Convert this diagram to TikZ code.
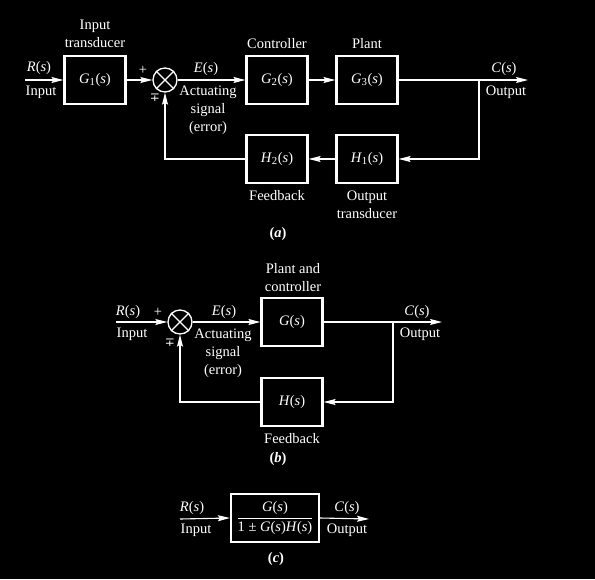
\documentclass[tikz,border=0pt]{standalone}
\usepackage{amsmath}
\usepackage{mathptmx}
\usepackage{fontspec}
\setmainfont{Liberation Serif}
\newfontfamily\symfam{DejaVu Serif}
\usetikzlibrary{arrows.meta,positioning}
\newcommand{\sig}[1]{\textit{#1}(\textit{s})}
\newcommand{\sigi}[2]{\textit{#1}\textsubscript{#2}(\textit{s})}
\newcommand{\mpsign}{{\symfam\fontsize{12}{12}\selectfont ∓}}

\begin{document}
\begin{tikzpicture}[x=1pt, y=-1pt,
    font=\fontsize{14.5}{18}\selectfont,
    blk/.style={rectangle, draw=white, line width=2.2pt, minimum width=61pt,
      minimum height=48pt, text=white},
    sum/.style={circle, draw=white, line width=1.3pt, minimum size=24pt, inner sep=0pt},
    arr/.style={-{Stealth[length=12pt, width=6pt, inset=2pt]}, white, line width=1.1pt},
    wire/.style={white, line width=1.1pt},
    lbl/.style={text=white, inner sep=0pt, align=center}
  ]
    \fill[black] (0,0) rectangle (595,579);

    % (a) full loop
    \node[blk] (g1) at (95,80)   {\sigi{G}{1}};
    \node[sum] (sa) at (165,80)  {};
    \node[blk] (g2) at (277,80)  {\sigi{G}{2}};
    \node[blk] (g3) at (367,80)  {\sigi{G}{3}};
    \node[blk] (h1) at (367,159) {\sigi{H}{1}};
    \node[blk] (h2) at (277,159) {\sigi{H}{2}};
    \draw[wire] (sa.north west) -- (sa.south east) (sa.north east) -- (sa.south west);
    \coordinate (ra) at (25,80);
    \coordinate (ca) at (528,80);
    \coordinate (ba) at (479,80);

    \draw[arr] (ra) -- (g1.west);
    \draw[arr] (g1.east) -- (sa.west);
    \draw[arr] (sa.east) -- (g2.west);
    \draw[arr] (g2.east) -- (g3.west);
    \draw[arr] (g3.east) -- (ca);
    \draw[arr] (ba) |- (h1.east);
    \draw[arr] (h1.west) -- (h2.east);
    \draw[arr] (h2.west) -| (sa.south);

    \node[lbl] (la1)  at (39,68)   {\sig{R}};
    \node[lbl] (la2)  at (41,92)   {Input};
    \node[lbl] (la3)  at (95,34)   {Input\\transducer};
    \node[lbl] (la4)  at (143,70)  {+};
    \node[lbl] (la5)  at (155,98)  {\mpsign};
    \node[lbl] (la6)  at (206,69)  {\sig{E}};
    \node[lbl] (la7)  at (208,110) {Actuating\\signal\\(error)};
    \node[lbl] (la8)  at (277,44)  {Controller};
    \node[lbl] (la9)  at (367,44)  {Plant};
    \node[lbl] (la10) at (504,69)  {\sig{C}};
    \node[lbl] (la11) at (506,92)  {Output};
    \node[lbl] (la12) at (277,196) {Feedback};
    \node[lbl] (la13) at (367,205) {Output\\transducer};
    \node[lbl] (la14) at (278,234) {\textbf{(\textit{a})}};

    % (b) canonical loop
    \node[sum] (sb) at (180,322) {};
    \node[blk] (gb) at (292,322) {\sig{G}};
    \node[blk] (hb) at (292,402) {\sig{H}};
    \draw[wire] (sb.north west) -- (sb.south east) (sb.north east) -- (sb.south west);
    \coordinate (rb) at (116,322);
    \coordinate (cb) at (442,322);
    \coordinate (bb) at (393,322);

    \draw[arr] (rb) -- (sb.west);
    \draw[arr] (sb.east) -- (gb.west);
    \draw[wire] (gb.east) -- (bb);
    \draw[arr] (bb) -- (cb);
    \draw[arr] (bb) |- (hb.east);
    \draw[arr] (hb.west) -| (sb.south);

    \node[lbl] (lb1)  at (128,312) {\sig{R}};
    \node[lbl] (lb2)  at (132,334) {Input};
    \node[lbl] (lb3)  at (158,312) {+};
    \node[lbl] (lb4)  at (170,343) {\mpsign};
    \node[lbl] (lb5)  at (224,312) {\sig{E}};
    \node[lbl] (lb6)  at (223,353) {Actuating\\signal\\(error)};
    \node[lbl] (lb7)  at (293,278) {Plant and\\controller};
    \node[lbl] (lb8)  at (417,312) {\sig{C}};
    \node[lbl] (lb9)  at (420,334) {Output};
    \node[lbl] (lb10) at (292,439) {Feedback};
    \node[lbl] (lb11) at (278,459) {\textbf{(\textit{b})}};

    % (c) closed-loop equivalent
    \node[blk, minimum width=88pt] (gc) at (275,518)
      {$\dfrac{\text{\sig{G}}}{\text{1 ± \sig{G}\sig{H}}}$};
    \coordinate (rc) at (180,519);
    \coordinate (cc) at (369,519);
    \draw[arr] (rc) -- (gc.west);
    \draw[arr] (gc.east) -- (cc);

    \node[lbl] (lc1) at (192,508) {\sig{R}};
    \node[lbl] (lc2) at (196,530) {Input};
    \node[lbl] (lc3) at (347,508) {\sig{C}};
    \node[lbl] (lc4) at (347,530) {Output};
    \node[lbl] (lc5) at (276,559) {\textbf{(\textit{c})}};
\end{tikzpicture}
\end{document}
